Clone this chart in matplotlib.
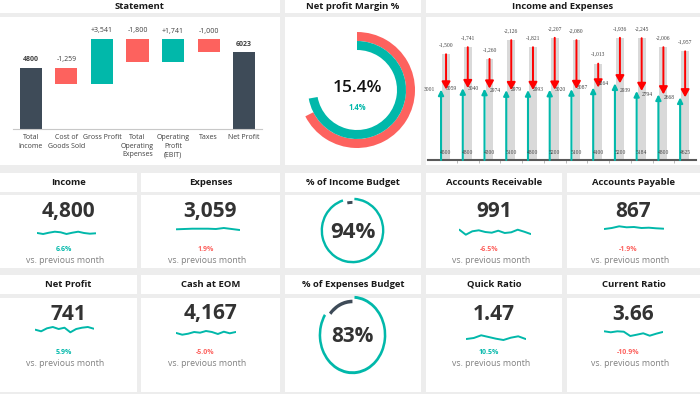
import numpy as np
import matplotlib
matplotlib.use('Agg')
import matplotlib.pyplot as plt

plt.rcParams['font.family'] = ['Open Sans', 'DejaVu Sans']

# couleurs
TEAL = '#01b8aa'
RED = '#fd625e'
DARK = '#3e4b58'
GREY_BAR = '#d9d9d9'
TXT = '#333333'

# ---- données : compte de résultat (waterfall)
stmt_labels = ['Total\nIncome', 'Cost of\nGoods Sold', 'Gross Profit', 'Total\nOperating\nExpenses',
               'Operating\nProfit\n(EBIT)', 'Taxes', 'Net Profit']
stmt_values = [4800, -1259, 3541, -1800, 1741, -1000, 6023]
stmt_total = [True, False, False, False, False, False, True]
stmt_text = ['4800', '-1,259', '+3,541', '-1,800', '+1,741', '-1,000', '6023']

# ---- données : marge nette
margin_text = '15.4%'
margin_delta = '1.4%'
margin_arc_now = 0.722   # anneau intérieur (teal)
margin_arc_prev = 0.675  # anneau extérieur (rouge)

# ---- données : revenus et dépenses par mois
income_month = [4500, 4800, 4300, 5100, 4800, 5200, 5100, 4100, 5200, 5184, 4800, 4625]
expense_month = [-1500, -1741, -1260, -2126, -1821, -2207, -2080, -1013, -1936, -2245, -2006, -1957]
net_month = [3001, 3059, 3040, 2974, 2979, 2993, 3020, 3087, 3264, 2939, 2794, 2668]

# ---- données : cartes KPI
kpi_titles = ['Income', 'Expenses', 'Accounts Receivable', 'Accounts Payable',
              'Net Profit', 'Cash at EOM', 'Quick Ratio', 'Current Ratio']
kpi_values = ['4,800', '3,059', '991', '867', '741', '4,167', '1.47', '3.66']
kpi_change = ['6.6%', '1.9%', '-6.5%', '-1.9%', '5.9%', '-5.0%', '10.5%', '-10.9%']
kpi_up = [True, False, False, False, True, False, True, False]
spark_income = [0, -1.0, 0.3, 1.3, 0.7, -1.0, 0.3, 1.3, 0.0, -0.7, -0.3]
spark_expenses = [-0.3, 0, 0.3, 0.3, 0.3, 0, 1, 0, -1]
spark_ar = [2.3, -2.7, 0.7, 1.7, 0, -0.7, 1.3, -1, -0.3, 2.3, 0.3, -2]
spark_ap = [-1, 0, 1.7, 0.7, 1, 0, 0.3, -0.3, -0.7]
spark_np = [-0.7, -2.3, 0.7, 2, 0, 1.3, -3.3, 0, 1.3, 2, 0.3]
spark_cash = [0, -1.7, -0.7, 1, 0.3, 2, 1, -1, 1.3, -0.3, 1]
spark_quick = [-1, 0, 2.7, 1, -0.7, -2, 0.3, 1.7, -1]
spark_current = [1.7, 0.7, 1.7, 1.3, -3, -1.7, -0.3, -2.7, -0.7, 1]
sparks = [spark_income, spark_expenses, spark_ar, spark_ap, spark_np, spark_cash, spark_quick, spark_current]

# ---- données : jauges budget
budget_titles = ['% of Income Budget', '% of Expenses Budget']
budget_pct = [0.94, 0.83]

W, H = 700, 394
fig = plt.figure(figsize=(7, 3.94), dpi=100, facecolor='#ededed')


def px_axes(x0, y0, x1, y1):
    return fig.add_axes([x0 / W, 1 - y1 / H, (x1 - x0) / W, (y1 - y0) / H])


def panel(x0, y0, x1, y1, title=None):
    ax = px_axes(x0, y0, x1, y1)
    ax.set_facecolor('white')
    ax.set_xticks([])
    ax.set_yticks([])
    for s in ax.spines.values():
        s.set_visible(False)
    if title:
        ax.text(0.5, 0.5, title, ha='center', va='center', fontsize=6.8,
                fontweight='bold', color='#1a1a1a', transform=ax.transAxes)
    return ax


def ftext(x, y, s, **kw):
    fig.text(x / W, 1 - y / H, s, ha='center', va='center', **kw)


def blank(ax):
    ax.set_xticks([])
    ax.set_yticks([])
    ax.patch.set_alpha(0)
    for s in ax.spines.values():
        s.set_visible(False)


cols = [(0, 137), (141, 280), (285, 421), (426, 562), (567, 700)]

# ---------------- rangée 1 : panneaux
panel(0, 0, 280, 13, 'Statement')
panel(0, 17, 280, 165)
panel(285, 0, 421, 13, 'Net profit Margin %')
panel(285, 17, 421, 165)
panel(426, 0, 700, 13, 'Income and Expenses')
panel(426, 17, 700, 165)

# waterfall
ax = px_axes(13, 27, 262, 129)
blank(ax)
x = np.arange(len(stmt_values))
run = 0
for i, v in enumerate(stmt_values):
    if stmt_total[i]:
        bottom, height, col = 0, v, DARK
        run = v
    else:
        bottom, height = run, v
        col = TEAL if v > 0 else RED
        run = run + v
    ax.bar(x[i], height, bottom=bottom, width=0.62, color=col)
    top = max(bottom, bottom + height)
    ax.text(x[i], top + 620, stmt_text[i], ha='center', va='center', fontsize=5, color='#404040',
            fontweight='bold' if stmt_total[i] else 'normal')
ax.set_xlim(-0.5, len(stmt_values) - 0.5)
ax.set_ylim(0, 8000)
ax.spines['bottom'].set_visible(True)
ax.spines['bottom'].set_color('#c8c8c8')
ax.set_xticks(x)
ax.set_xticklabels(stmt_labels, fontsize=5, color='#404040', linespacing=1.35, va='top')
ax.tick_params(axis='x', length=0, pad=3.5)

# marge nette : deux anneaux
ax = px_axes(295, 28, 419, 152)
ax.pie([margin_arc_prev, 1 - margin_arc_prev], radius=58, colors=[RED, 'none'], startangle=90,
       counterclock=False, wedgeprops=dict(width=9, linewidth=0))
ax.pie([margin_arc_now, 1 - margin_arc_now], radius=49, colors=[TEAL, 'none'], startangle=90,
       counterclock=False, wedgeprops=dict(width=9, linewidth=0))
ax.set_xlim(-62, 62)
ax.set_ylim(-62, 62)
ftext(357, 88, margin_text, fontsize=12.5, color='#111111', fontweight='semibold')
ftext(357, 108, margin_delta, fontsize=5.5, color=TEAL, fontweight='bold')

# revenus / dépenses
ax = px_axes(428, 19, 696, 160)
blank(ax)
m = np.arange(len(income_month))
ax.bar(m, income_month, width=0.36, color=GREY_BAR)
for i in range(len(m)):
    ax.annotate('', xy=(m[i] - 0.23, net_month[i]), xytext=(m[i] - 0.23, 0),
                arrowprops=dict(arrowstyle='-|>,head_length=0.45,head_width=0.22', color=TEAL,
                                lw=1.5, mutation_scale=7, shrinkA=0, shrinkB=0))
    ax.annotate('', xy=(m[i], net_month[i]), xytext=(m[i], income_month[i]),
                arrowprops=dict(arrowstyle='-|>,head_length=0.45,head_width=0.25', color='#ff0000',
                                lw=1.4, mutation_scale=10, shrinkA=0, shrinkB=0))
    ax.text(m[i], income_month[i] + 400, f'{expense_month[i]:,}', ha='center', va='center',
            fontsize=4, family='Liberation Serif', color='#404040')
    ax.text(m[i], 300, f'{income_month[i]}', ha='center', va='center',
            fontsize=4, family='Liberation Serif', color='#404040')
    ax.text(m[i] - 0.75, net_month[i], f'{net_month[i]}', ha='center', va='center',
            fontsize=4, family='Liberation Serif', color='#404040')
ax.set_xlim(-0.83, 11.5)
ax.set_ylim(0, 6000)
ax.spines['bottom'].set_visible(True)
ax.spines['bottom'].set_color('#595959')
ax.spines['bottom'].set_linewidth(1.5)
ax.set_xticks(m[:-1] + 0.5)
ax.set_xticklabels([])
ax.tick_params(axis='x', length=2, width=0.5, color='#a0a0a0')

# ---------------- rangées 2 et 3 : cartes KPI
card_cols = [0, 1, 3, 4, 0, 1, 3, 4]
card_row = [0, 0, 0, 0, 1, 1, 1, 1]
title_y = [(173, 192), (275, 294)]
body_y = [(195, 268), (298, 392)]
num_y = [211.5, 314]
pct_y = [249.5, 352.5]
vs_y = [260.5, 364]
spark_x = [(38, 95), (177, 239), (460, 530), (605, 663), (36, 93), (177, 235), (467, 525), (605, 662)]
spark_yc = [233, 229, 232, 228, 329, 333, 338, 333]

for k in range(len(kpi_titles)):
    c0, c1 = cols[card_cols[k]]
    r = card_row[k]
    panel(c0, title_y[r][0], c1, title_y[r][1], kpi_titles[k])
    panel(c0, body_y[r][0], c1, body_y[r][1])
    cx = (c0 + c1) / 2
    ftext(cx, num_y[r], kpi_values[k], fontsize=15, fontweight='bold', color=TXT)
    ftext(cx - 5, pct_y[r], kpi_change[k], fontsize=5, fontweight='bold',
          color=TEAL if kpi_up[k] else RED)
    ftext(cx - 3, vs_y[r], 'vs. previous month', fontsize=6.3, color='#808080')
    sx0, sx1 = spark_x[k]
    sa = px_axes(sx0 - 1, spark_yc[k] - 7, sx1 + 1, spark_yc[k] + 7)
    blank(sa)
    sv = sparks[k]
    sa.plot(np.arange(len(sv)), sv, color=TEAL, lw=1.4, solid_capstyle='round')
    sa.set_xlim(-0.05, len(sv) - 0.95)
    sa.set_ylim(-7, 7)

# jauges budget
gauge_box = [(320, 197, 385, 264), (318, 295, 387, 375)]
gauge_size = [16, 15]
for g in range(2):
    c0, c1 = cols[2]
    panel(c0, title_y[g][0], c1, title_y[g][1], budget_titles[g])
    panel(c0, body_y[g][0], c1, body_y[g][1])
    x0, y0, x1, y1 = gauge_box[g]
    ga = px_axes(x0, y0, x1, y1)
    p = budget_pct[g]
    ga.pie([p, 1 - p], radius=1, colors=[TEAL, 'none'], startangle=86.5, counterclock=False,
           wedgeprops=dict(width=0.075, linewidth=0))
    gap = 0.01
    ga.pie([p + gap + 0.0097, 1 - p - 2 * gap - 0.0097, gap], radius=0.9, colors=['none', DARK, 'none'],
           startangle=86.5, counterclock=False, wedgeprops=dict(width=0.09, linewidth=0))
    ga.set_aspect('auto')
    ga.set_xlim(-1.02, 1.02)
    ga.set_ylim(-1.02, 1.02)
    ftext((x0 + x1) / 2, (y0 + y1) / 2 + 2, f'{round(p * 100)}%', fontsize=gauge_size[g],
          fontweight='bold', color=TXT)

fig.savefig('out.png', dpi=100, facecolor=fig.get_facecolor())
